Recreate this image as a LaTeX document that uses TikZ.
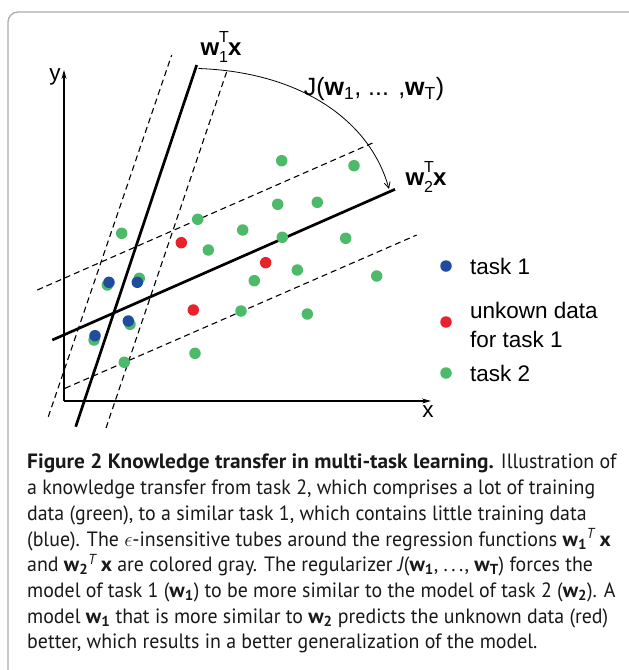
\documentclass[tikz,border=0pt]{standalone}
\usepackage{fontspec}
\setmainfont{Liberation Sans}
\newfontfamily\capfont[FakeStretch=0.96,BoldFeatures={FakeStretch=1.03}]{PT Sans}
\usetikzlibrary{arrows.meta}
\definecolor{taskblue}{RGB}{31,76,156}
\definecolor{unkred}{RGB}{232,34,44}
\definecolor{taskgreen}{RGB}{77,186,106}
% weight vector label: bold w, stacked T and index, bold x
\newcommand{\wlabel}[1]{\textbf{w}\rlap{\raisebox{0.55em}{\fontsize{16}{16}\selectfont T}}\raisebox{-0.3em}{\fontsize{16}{16}\selectfont #1}\textbf{x}}
\newcommand{\capw}[1]{\textbf{w\textsubscript{#1}}}
\begin{document}
\begin{tikzpicture}[x=1pt,y=-1pt,every node/.style={font=\fontsize{22.5}{27}\selectfont},
  dotb/.style={circle,fill=taskblue,inner sep=0pt,minimum size=11.5pt},
  dotr/.style={circle,fill=unkred,inner sep=0pt,minimum size=11.5pt},
  dotg/.style={circle,fill=taskgreen,inner sep=0pt,minimum size=11.5pt},
  model/.style={line width=2.7pt},
  tube/.style={line width=1.1pt,dash pattern=on 6pt off 4pt},
  axis/.style={line width=1.1pt,-{Stealth[length=9pt,width=5pt]}}]
\useasboundingbox (0,0) rectangle (629,670);
\clip (0,0) rectangle (629,670);
% figure frame
\draw[gray!65,line width=1.3pt,rounded corners=10pt] (8,700) |- (680,12);
% axes
\coordinate (origin) at (64,401);
\coordinate (ytop) at (64,70);
\coordinate (xend) at (431,401);
\draw[axis] (origin) -- (ytop);
\draw[axis] (origin) -- (xend);
\node (ylab) at (55,77) {y};
\node (xlab) at (428,412) {x};
% tubes of task 1 and task 2
\coordinate (t1la) at (48.3,416.7); \coordinate (t1lb) at (171.7,55);
\coordinate (t1ra) at (106,428);    \coordinate (t1rb) at (226.7,71.7);
\coordinate (t2ua) at (37.3,290);   \coordinate (t2ub) at (373.3,142.7);
\coordinate (t2da) at (65,388.3);   \coordinate (t2db) at (416.7,235);
\draw[tube] (t1la) -- (t1lb);
\draw[tube] (t1ra) -- (t1rb);
\draw[tube] (t2ua) -- (t2ub);
\draw[tube] (t2da) -- (t2db);
% regression functions
\coordinate (w1a) at (75.7,426.7); \coordinate (w1b) at (196.7,65);
\coordinate (w2a) at (52.3,340);   \coordinate (w2b) at (395,189.3);
\draw[model] (w1a) -- (w1b);
\draw[model] (w2a) -- (w2b);
\node[font=\fontsize{24}{28}\selectfont] (w1lab) at (221,47) {\wlabel{1}};
\node[font=\fontsize{24}{28}\selectfont] (w2lab) at (426,177) {\wlabel{2}};
% regularizer
\coordinate (jfrom) at (198.5,68.5);
\coordinate (jto) at (389,189);
\draw[line width=0.8pt,-{Straight Barb[length=6pt,width=6pt]}] (jfrom) .. controls (300,72) and (370,120) .. (jto);
\node[font=\fontsize{25}{30}\selectfont] (jlab) at (374,89) {J(\textbf{w}\textsubscript{1}, ... ,\textbf{w}\textsubscript{T})};
% task 2 data
\foreach \x/\y [count=\i] in {281.7/160.7,354/165.7,277.7/204.3,317.3/202.3,197.7/219.3,242.7/230,282.3/237.3,345.7/238.3,121.7/233.3,208.3/250,297.3/270,376.7/276,254.3/280.7,241/311,307.3/314,195/353.3,124.3/362.3,107.3/285,139.3/278.3,130/324.3,94/340}
  \node[dotg] (g\i) at (\x,\y) {};
% unknown data
\foreach \x/\y [count=\i] in {181.3/242.7,265.7/262.7,193.3/310}
  \node[dotr] (r\i) at (\x,\y) {};
% task 1 data
\foreach \x/\y [count=\i] in {109/282.3,137.3/282.3,128.3/321,95/335.7}
  \node[dotb] (b\i) at (\x,\y) {};
% legend
\node[dotb] (lgb) at (446,266) {};
\node[dotr] (lgr) at (446,322) {};
\node[dotg] (lgg) at (446,373) {};
\node[anchor=base west,inner sep=0pt] (lgbtxt) at (470,274) {task 1};
\node[anchor=west,inner sep=0pt,align=left,font=\fontsize{22.5}{28.3}\selectfont] (lgrtxt) at (470,325) {unkown data\\for task 1};
\node[anchor=base west,inner sep=0pt] (lggtxt) at (470,381.7) {task 2};
% caption
\node[anchor=north west,inner sep=0pt,align=left,text=black!90,font=\capfont\fontsize{20.7}{25.7}\selectfont] (caption) at (27,454) {%
\textbf{Figure 2 Knowledge transfer in multi-task learning.} Illustration of\\
a knowledge transfer from task 2, which comprises a lot of training\\
data (green), to a similar task 1, which contains little training data\\
(blue). The $\epsilon$-insensitive tubes around the regression functions \capw{1}\textsuperscript{\textit{T}}\,\textbf{x}\\
and \capw{2}\textsuperscript{\textit{T}}\,\textbf{x} are colored gray. The regularizer \textit{J}(\capw{1}, .\,.\,., \capw{T}) forces the\\
model of task 1 (\capw{1}) to be more similar to the model of task 2 (\capw{2}). A\\
model \capw{1} that is more similar to \capw{2} predicts the unknown data (red)\\
better, which results in a better generalization of the model.};
\end{tikzpicture}
\end{document}
